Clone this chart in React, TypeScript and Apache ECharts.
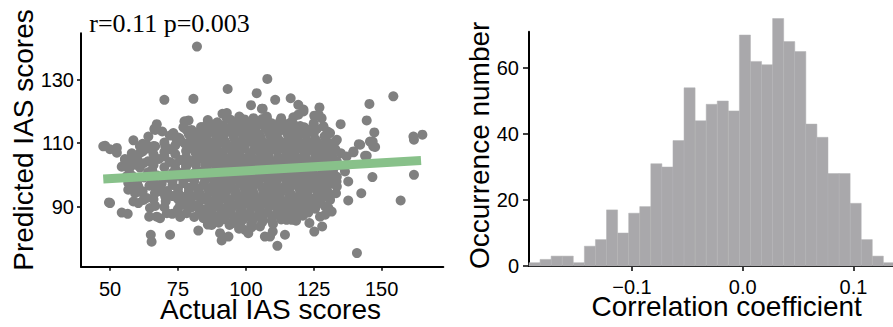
import React, { useEffect, useRef } from 'react';
import * as echarts from 'echarts';

// ---------- Left panel: actual vs predicted IAS scores ----------
const scatterPoints: [number, number][] = [
  // outliers / edge points
  [82, 140.5], [93.3, 127.1], [70, 123.7], [80.7, 124], [104, 125.8], [107.9, 130.3], [101.9, 122], [105.9, 120.9],
  [91.4, 119.3], [94.4, 117.4], [97.6, 118.4], [77.4, 116.9], [78.9, 117.2], [67.2, 116], [66.3, 114.5], [69.2, 113.7],
  [77, 115], [74.7, 111.9], [80.7, 112.1], [84.4, 113.2], [86.5, 113.4], [58.6, 110.9], [48.2, 109.2], [52.5, 108.5],
  [61, 109], [63.5, 109.5], [66.6, 109], [70.3, 109],
  [154.3, 124.8], [145.5, 122.4], [110.8, 123.7], [116.5, 124.2], [119.3, 122.1], [106.2, 120.9], [127.1, 121.3],
  [121.2, 120], [117.5, 118.2], [112.9, 116.9], [125.2, 118.7], [127.9, 117.9], [107.7, 117.9], [134.9, 116],
  [144.5, 117.2], [121.5, 115], [126.1, 114.5], [130.1, 113.7], [147.3, 113.4], [161.7, 112.1], [165, 112.7],
  [141.6, 109.7], [146.7, 110.5], [147.6, 108.8],
  [52.5, 107], [55.5, 104.8], [49.6, 91.3], [54.3, 88.1], [56.5, 87.7], [65, 81.1], [65.3, 78.9], [72.1, 81.1],
  [82.5, 82.4], [91.1, 79.3], [93.6, 80.5], [64.4, 86.8], [68.4, 86.3], [72.9, 87.7], [75.8, 86.7], [69, 94.7],
  [70.3, 93.2], [58.6, 91.6], [60.4, 91.1], [63.5, 92.7], [56.7, 95.3], [59.2, 94.2], [66.6, 90.2], [102.2, 83.5],
  [107, 80.5], [87.4, 84.2], [84.4, 86.3], [77.6, 90.5],
  [54.3, 102.6], [59.2, 103.2], [62.3, 103.7], [65.4, 104.2], [56.7, 97.4], [65.4, 97.4], [60.4, 96.3], [75.1, 94.2],
  [78.9, 92.7],
  [140.9, 75.3], [111.6, 77.6], [108.9, 80.5], [109.9, 82.1], [114.4, 81.1], [123.4, 84.8], [125.2, 82.1],
  [128.1, 83.7], [115.6, 88.7], [118.5, 88.1], [116.9, 85.8], [118.5, 85.5], [129.2, 87.4], [131.6, 88.4],
  [129.2, 90], [131, 92.1], [137.7, 91.9], [142.5, 94.2], [133.2, 94.2], [157, 91.9], [137.7, 97.9], [146.6, 99.3],
  [161.9, 100], [132.2, 100.5], [133.4, 97.9], [136.5, 101.1], [139.6, 107.1], [142.1, 109.5], [143.9, 106],
  [145.7, 110.5], [161.9, 111.1], [120, 92.1], [123.6, 92.1], [127.1, 95.3], [105.9, 86.8], [127.9, 97.4],
  [131, 98.4], [112.6, 91.6], [107.7, 92.1], [117.5, 91.1], [139.6, 107.4], [144.5, 106], [47.5, 109], [50, 108.1],
  [55.5, 105], [50, 91.1], [146.9, 109],
  [93, 119.5], [97.9, 117.9], [102.8, 117.9], [107.7, 118.4], [112.6, 116.9], [119.3, 119], [121.2, 120.6],
  [126.8, 119], [125, 116.3], [128.6, 115.3], [85.6, 115.8], [83.1, 113.2], [78.2, 114.2], [73.3, 113.2],
  [74.5, 111.1], [64.1, 112.1], [66.6, 114.2], [131, 113.2], [133.5, 111.1], [132.2, 108.5], [137.1, 105.8],
  [135.9, 102.6], [133.5, 96.3], [131, 93.2], [130.4, 89.5], [127.3, 86.8], [120, 89], [117.5, 86.8], [115, 85.8],
  [105.2, 83.7], [99.7, 82.6], [95.4, 84.8], [88, 84.8], [85.6, 86.8], [90.5, 81.6], [78.2, 87.9], [75.8, 90.5],
  [70.9, 87.9], [67.2, 86.8], [64.7, 89.5], [62.3, 92.1], [61, 94.7], [57.4, 96.3], [56.1, 99.5], [56.1, 102.6],
  [58.6, 104.8], [61, 106.9], [100.9, 81.6], [97.5, 83.0],
  // dense core
  [86, 117.3], [89.5, 116.6], [93, 117.8], [96, 116.2], [99.5, 117.5], [103, 116.8], [106, 117.6], [109.5, 116.3],
  [113, 117.9], [116.5, 116.5],
  [80, 114.2], [83.5, 115.1], [87, 114.0], [90, 115.3], [93.5, 114.6], [97, 113.9], [100, 115.2], [103.5, 114.4],
  [107, 115.0], [110, 113.8], [113.5, 114.8], [117, 114.1], [120, 115.4], [123.5, 114.3],
  [72, 112.4], [75.5, 111.6], [79, 112.8], [82, 111.9], [85.5, 112.5], [89, 111.4], [92, 112.7], [95.5, 112.0],
  [99, 111.5], [102, 112.9], [105.5, 111.8], [109, 112.3], [112, 111.2], [115.5, 112.6], [119, 111.9], [122, 112.5],
  [125.5, 111.3], [129, 112.2],
  [62, 109.8], [66, 109.1], [70, 110.2], [74, 109.3], [77.5, 109.9], [81, 108.9], [84, 110.1], [87.5, 109.4],
  [91, 110.3], [94, 109.0], [97.5, 109.7], [101, 110.4], [104, 109.2], [107.5, 109.8], [111, 109.1], [114, 110.2],
  [117.5, 109.5], [121, 108.8], [124, 109.9], [127.5, 109.3], [131, 110.0],
  [58, 106.8], [62, 107.4], [66, 106.5], [70, 107.2], [74, 106.6], [78, 107.5], [81.5, 106.9], [85, 107.3],
  [88, 106.4], [91.5, 107.1], [95, 106.7], [98, 107.6], [101.5, 106.5], [105, 107.2], [108, 106.8], [111.5, 107.5],
  [115, 106.6], [118, 107.3], [121.5, 106.9], [125, 107.4], [128, 106.5], [131.5, 107.1], [135, 106.8],
  [56, 104.2], [60, 104.9], [64, 104.3], [68, 105.0], [72, 104.1], [76, 104.7], [80, 104.4], [83.5, 105.1],
  [87, 104.0], [90, 104.8], [93.5, 104.3], [97, 105.0], [100, 104.6], [103.5, 103.9], [107, 104.7], [110, 104.2],
  [113.5, 105.0], [117, 104.4], [120, 104.8], [123.5, 104.1], [127, 104.6], [130, 105.1], [133.5, 104.3],
  [57, 101.8], [61, 102.3], [65.5, 101.6], [70, 102.4], [74, 101.9], [78, 102.6], [82, 101.5], [85.5, 102.2],
  [89, 101.7], [92, 102.5], [95.5, 101.9], [99, 102.3], [102, 101.6], [105.5, 102.4], [109, 101.8], [112, 102.6],
  [115.5, 101.7], [119, 102.1], [122, 101.5], [125.5, 102.4], [129, 101.9], [132.5, 102.3],
  [58, 99.8], [62.5, 99.2], [67, 99.9], [71, 99.1], [75, 99.7], [79, 99.3], [83, 100.0], [86.5, 99.4], [90, 99.8],
  [93, 99.0], [96.5, 99.6], [100, 100.1], [103, 99.2], [106.5, 99.7], [110, 99.3], [113, 100.0], [116.5, 99.5],
  [120, 99.1], [123, 99.8], [126.5, 99.3], [130, 99.9], [133.5, 99.4],
  [60, 97.3], [64.5, 96.6], [69, 97.2], [73, 96.8], [77, 97.4], [81, 96.5], [84.5, 97.1], [88, 96.7], [91, 97.5],
  [94.5, 96.9], [98, 97.2], [101, 96.6], [104.5, 97.3], [108, 96.8], [111, 97.4], [114.5, 96.5], [118, 97.1],
  [121, 96.9], [124.5, 97.5], [128, 96.7], [131.5, 97.2],
  [62, 94.8], [66.5, 94.2], [71, 94.9], [75, 94.3], [79, 94.7], [83, 94.1], [86.5, 94.8], [90, 94.4], [93, 95.0],
  [96.5, 94.2], [100, 94.6], [103, 94.1], [106.5, 94.9], [110, 94.3], [113, 94.7], [116.5, 94.0], [120, 94.6],
  [123, 95.0], [126.5, 94.4], [130, 94.8],
  [66, 92.3], [70.5, 91.7], [75, 92.4], [79.5, 91.8], [84, 92.2], [87.5, 91.6], [91, 92.5], [94, 91.9], [97.5, 92.3],
  [101, 91.5], [104, 92.1], [107.5, 91.8], [111, 92.4], [114, 91.6], [117.5, 92.2], [121, 91.9], [124, 92.5],
  [127.5, 91.7],
  [70, 89.8], [75, 89.2], [80, 89.7], [85, 89.1], [88.5, 89.9], [92, 89.4], [95, 89.8], [98.5, 89.0], [102, 89.6],
  [105, 89.2], [108.5, 89.9], [112, 89.3], [115, 89.7], [118.5, 89.1], [122, 89.6], [125.5, 89.3],
  [76, 87.2], [81, 86.7], [86, 87.3], [89.5, 86.8], [93, 87.4], [96.5, 86.6], [100, 87.1], [103, 86.5],
  [106.5, 87.3], [110, 86.9], [113.5, 87.2], [117, 86.6], [121, 87.1],
  [86, 84.3], [90, 84.9], [94, 84.2], [98, 84.7], [102, 84.4], [106, 85.0], [110, 84.5],
  // dense core, in-between rows
  [88, 115.9], [91.5, 115.6], [95, 116.0], [98, 115.5], [101.5, 115.8], [105, 116.1], [108, 115.4], [111.5, 115.7],
  [115, 116.0], [118, 115.6],
  [81.5, 113.4], [85, 113.0], [88.5, 113.3], [91.5, 112.9], [95, 113.5], [98.5, 113.1], [101.5, 113.4], [105, 112.8],
  [108.5, 113.3], [111.5, 113.0], [115, 113.4], [118.5, 112.9], [121.5, 113.3], [125, 113.1],
  [76, 110.8], [79.5, 110.5], [82.5, 110.9], [86, 110.6], [89.5, 110.9], [92.5, 110.4], [96, 110.8], [99.5, 110.6],
  [102.5, 111.0], [106, 110.5], [109.5, 110.8], [112.5, 110.6], [116, 110.9], [119.5, 110.4], [122.5, 110.8],
  [126, 110.6], [129.5, 110.9], [133, 110.5],
  [64, 108.3], [72, 108.1], [79.5, 108.4], [83, 108.0], [86, 108.3], [89.5, 108.1], [93, 108.5], [96, 108.0],
  [99.5, 108.3], [103, 108.1], [106, 108.4], [109.5, 108.0], [113, 108.3], [116, 108.1], [119.5, 108.4], [123, 108.0],
  [126, 108.3], [129.5, 108.2], [133, 108.0],
  [70, 105.8], [78, 105.6], [82, 105.9], [85.5, 105.5], [88.5, 105.8], [92, 105.6], [95.5, 105.9], [98.5, 105.4],
  [102, 105.8], [105.5, 105.6], [108.5, 105.9], [112, 105.5], [115.5, 105.8], [118.5, 105.6], [122, 105.9],
  [125.5, 105.5], [128.5, 105.8], [132, 105.6],
  [66, 103.1], [74, 103.4], [78, 103.0], [81.5, 103.3], [85, 103.1], [88.5, 103.4], [91.5, 102.9], [95, 103.3],
  [98.5, 103.0], [101.5, 103.4], [105, 103.1], [108.5, 103.3], [111.5, 102.9], [115, 103.2], [118.5, 103.0],
  [121.5, 103.4], [125, 103.1], [128.5, 103.3], [132, 103.0],
  [64, 100.8], [73, 100.6], [77, 100.9], [81, 100.5], [84.5, 100.8], [88, 100.6], [91, 100.9], [94.5, 100.4],
  [98, 100.8], [101, 100.6], [104.5, 100.9], [108, 100.5], [111, 100.8], [114.5, 100.6], [118, 100.9], [121, 100.5],
  [124.5, 100.8], [128, 100.6], [131.5, 100.9],
  [66, 98.3], [73, 98.0], [77, 98.4], [81, 98.1], [85, 98.3], [88.5, 98.0], [91.5, 98.4], [95, 98.1], [98.5, 98.3],
  [101.5, 98.0], [105, 98.4], [108.5, 98.1], [111.5, 98.3], [115, 98.0], [118.5, 98.4], [121.5, 98.1], [125, 98.3],
  [128.5, 98.0], [132, 98.2],
  [67, 95.8], [75, 95.6], [79, 95.9], [82.5, 95.5], [86, 95.8], [89.5, 95.6], [92.5, 95.9], [96, 95.4], [99.5, 95.8],
  [102.5, 95.6], [106, 95.9], [109.5, 95.5], [112.5, 95.8], [116, 95.6], [119.5, 95.9], [122.5, 95.5], [126, 95.8],
  [129.5, 95.6],
  [73, 93.3], [77, 93.0], [81.5, 93.4], [85.5, 93.1], [89, 93.3], [92.5, 93.0], [96, 93.4], [99, 93.1], [102.5, 93.3],
  [106, 93.0], [109, 93.4], [112.5, 93.1], [116, 93.3], [119, 93.0], [122.5, 93.4], [126, 93.1], [129, 93.3],
  [77, 90.8], [82.5, 90.6], [86.5, 90.9], [90, 90.5], [93.5, 90.8], [96.5, 90.6], [100, 90.9], [103.5, 90.5],
  [106.5, 90.8], [110, 90.6], [113.5, 90.9], [116.5, 90.5], [120, 90.8], [123.5, 90.6], [126.5, 90.9],
  [83, 88.3], [87.5, 88.0], [91, 88.4], [94.5, 88.1], [98, 88.3], [101.5, 88.0], [105, 88.4], [108, 88.1],
  [111.5, 88.3], [115, 88.0], [119, 88.4], [123, 88.1],
  [88, 85.8], [92, 86.0], [95.5, 85.6], [99, 85.9], [102.5, 85.7], [106, 86.0], [109.5, 85.6], [113, 85.9],
];
const fitLineX = [47.5, 164.5];
const fitLineY = [98.7, 104.5];
const scatterXTicks = [50, 75, 100, 125, 150];
const scatterYTicks = [90, 110, 130];
const statsText = 'r=0.11 p=0.003';

// ---------- Right panel: histogram of correlation coefficients ----------
const histEdges = [
  -0.193, -0.183, -0.173, -0.163, -0.153, -0.143, -0.133, -0.123, -0.113, -0.103, -0.093, -0.083,
  -0.073, -0.063, -0.053, -0.043, -0.033, -0.023, -0.013, -0.003, 0.007, 0.017, 0.027, 0.037,
  0.047, 0.057, 0.067, 0.077, 0.087, 0.097, 0.107, 0.117, 0.127, 0.137,
];
const histCounts = [
  1, 2, 3, 3, 1, 6, 8, 17, 10, 16, 18, 31, 30, 38, 54, 44, 49, 50, 47, 70, 62, 61, 75, 68, 65, 43, 39, 28, 28,
  19, 8, 3, 1,
];
const histXTicks = [-0.1, 0, 0.1];
const histYTicks = [0, 20, 40, 60];

const SANS = '"Liberation Sans", Arial, Helvetica, sans-serif';
const SERIF = '"Liberation Serif", "Times New Roman", serif';

export default function App() {
  const ref = useRef<HTMLDivElement>(null);
  useEffect(() => {
    if (!ref.current) return;
    const chart = echarts.init(ref.current, undefined, { renderer: 'svg' });
    const axisLine = { show: true, onZero: false, lineStyle: { color: '#000', width: 2 } };
    const labelBase = { color: '#000', fontSize: 20, fontFamily: SANS };
    const option: any = {
      animation: false,
      grid: [
        { left: 81, top: 33.3, width: 362.3, height: 233.4 },
        { left: 529, top: 31.7, width: 364, height: 234.3 },
      ],
      xAxis: [
        {
          type: 'value', gridIndex: 0, min: 39.3, max: 172.7,
          axisLine, splitLine: { show: false },
          axisTick: { show: true, customValues: scatterXTicks, length: 4, lineStyle: { color: '#000', width: 1.5 } },
          axisLabel: { ...labelBase, customValues: scatterXTicks, margin: 14, lineHeight: 16 },
        },
        {
          type: 'value', gridIndex: 1, min: -0.193, max: 0.1357,
          axisLine, splitLine: { show: false },
          axisTick: { show: true, customValues: histXTicks, length: 5, lineStyle: { color: '#000', width: 1.5 } },
          axisLabel: {
            ...labelBase, customValues: histXTicks, margin: 13, lineHeight: 16,
            formatter: (v: number) => (v < 0 ? '\u2212' : '') + Math.abs(v).toFixed(1),
          },
        },
      ],
      yAxis: [
        {
          type: 'value', gridIndex: 0, min: 71, max: 144.7,
          axisLine, splitLine: { show: false },
          axisTick: { show: true, customValues: scatterYTicks, length: 4, lineStyle: { color: '#000', width: 1.5 } },
          axisLabel: { ...labelBase, customValues: scatterYTicks, margin: 7 },
        },
        {
          type: 'value', gridIndex: 1, min: 0, max: 71,
          axisLine, splitLine: { show: false },
          axisTick: { show: true, customValues: histYTicks, length: 6, lineStyle: { color: '#000', width: 1.5 } },
          axisLabel: { ...labelBase, customValues: histYTicks, margin: 10 },
        },
      ],
      series: [
        {
          type: 'scatter', xAxisIndex: 0, yAxisIndex: 0, data: scatterPoints,
          symbolSize: 10, itemStyle: { color: '#808080', opacity: 1 }, z: 2,
        },
        {
          type: 'line', xAxisIndex: 0, yAxisIndex: 0,
          data: fitLineX.map((x, i) => [x, fitLineY[i]]),
          symbol: 'none', showSymbol: false,
          lineStyle: { color: '#88c18a', width: 9, cap: 'butt' }, z: 3,
        },
        {
          type: 'custom', xAxisIndex: 1, yAxisIndex: 1,
          data: histCounts.map((c, i) => [histEdges[i], histEdges[i + 1], c]),
          encode: { x: [0, 1], y: 2 },
          clip: false,
          renderItem: (params: any, api: any) => {
            const p0 = api.coord([api.value(0), 0]);
            const p1 = api.coord([api.value(1), api.value(2)]);
            return {
              type: 'rect',
              shape: { x: p0[0], y: p1[1], width: p1[0] - p0[0], height: p0[1] - p1[1] },
              style: { fill: '#a9a8ab', stroke: '#b3b2b5', lineWidth: 0.5 },
            };
          },
          z: 1,
        },
      ],
      graphic: [
        {
          type: 'text', x: 23, y: 140, rotation: Math.PI / 2,
          style: { text: 'Predicted IAS scores', fontSize: 28, lineHeight: 22, fontFamily: SANS, fill: '#000', align: 'center', verticalAlign: 'middle' },
        },
        {
          type: 'text', x: 270.5, y: 309,
          style: { text: 'Actual IAS scores', fontSize: 28, lineHeight: 22, fontFamily: SANS, fill: '#000', align: 'center', verticalAlign: 'middle' },
        },
        {
          type: 'text', x: 89.3, y: 23.3,
          style: { text: statsText, fontSize: 26, lineHeight: 20, fontFamily: SERIF, fill: '#000', align: 'left', verticalAlign: 'middle' },
        },
        {
          type: 'text', x: 479, y: 145.3, rotation: Math.PI / 2,
          style: { text: 'Occurrence number', fontSize: 28, lineHeight: 22, fontFamily: SANS, fill: '#000', align: 'center', verticalAlign: 'middle' },
        },
        {
          type: 'text', x: 726.7, y: 306,
          style: { text: 'Correlation coefficient', fontSize: 28, lineHeight: 22, fontFamily: SANS, fill: '#000', align: 'center', verticalAlign: 'middle' },
        },
      ],
    };
    chart.setOption(option);
    return () => chart.dispose();
  }, []);
  return (
    <div
      ref={ref}
      style={{ position: 'absolute', left: 0, top: 0, width: 893, height: 327, background: '#fff' }}
    />
  );
}
